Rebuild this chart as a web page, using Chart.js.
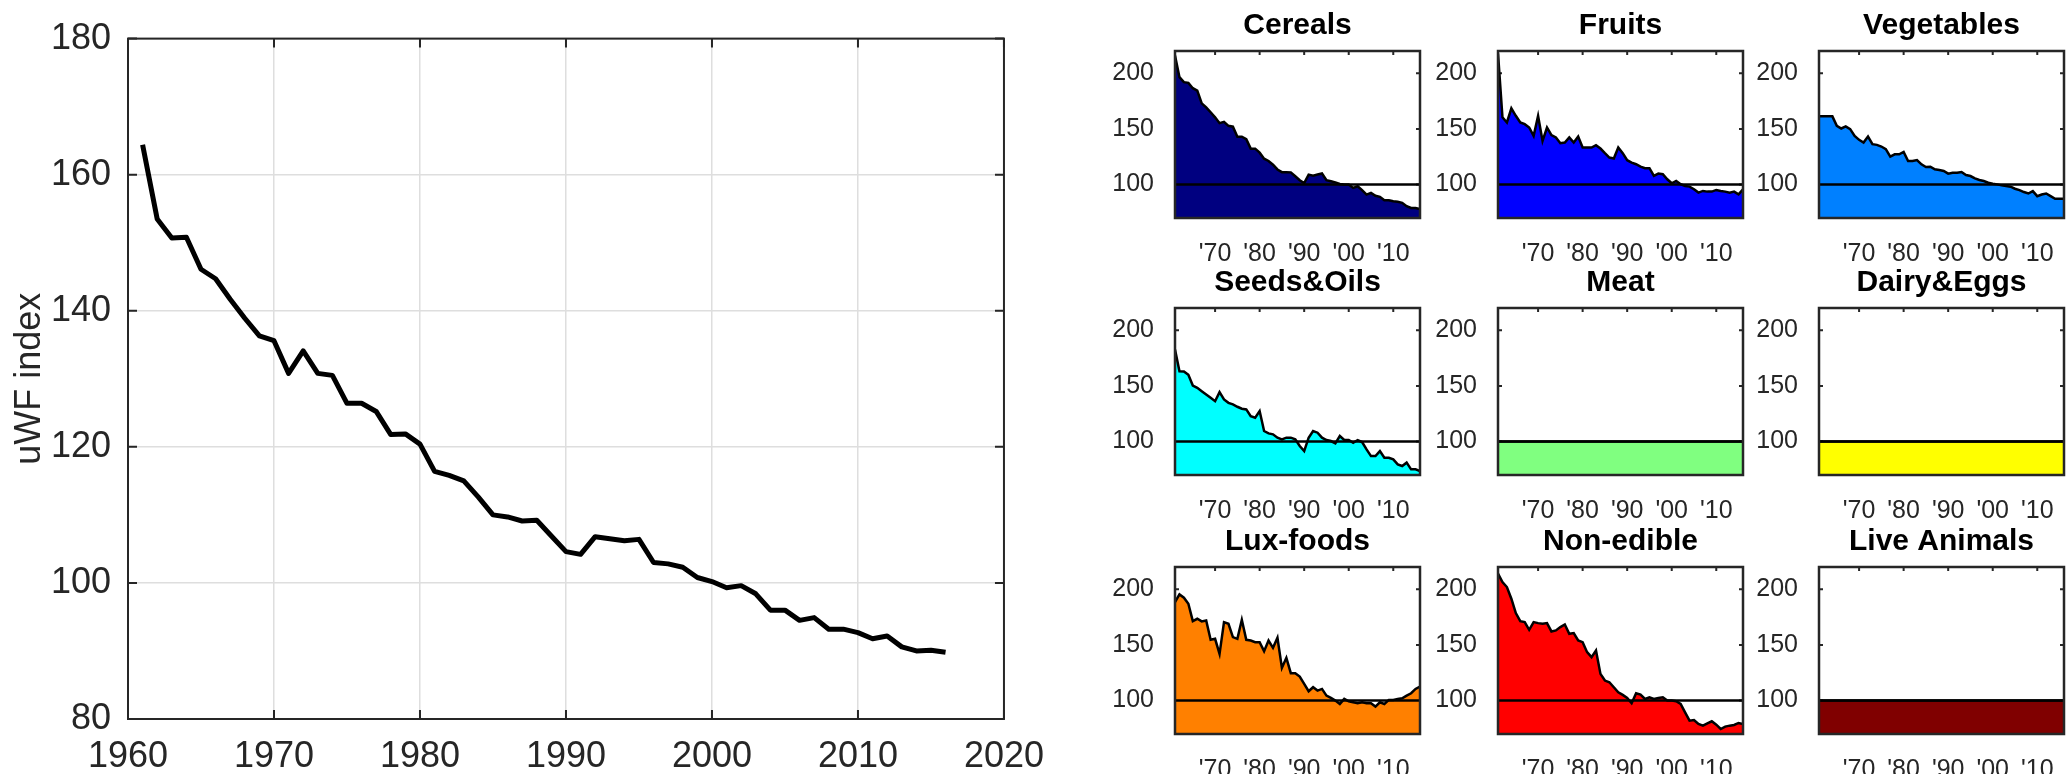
<!DOCTYPE html>
<html>
<head>
<meta charset="utf-8">
<script src="https://cdn.jsdelivr.net/npm/chart.js@4.4.1/dist/chart.umd.min.js"></script>
<style>
  html, body { margin: 0; padding: 0; background: #ffffff; overflow: hidden; width: 2067px; height: 774px; }
  canvas { position: absolute; }
</style>
</head>
<body>
<canvas id="main" width="1060" height="774" style="left:0px;top:0px"></canvas>
<div id="panels"></div>
<script>
// ---------------- DATA ----------------
const years = [1961,1962,1963,1964,1965,1966,1967,1968,1969,1970,
               1971,1972,1973,1974,1975,1976,1977,1978,1979,1980,
               1981,1982,1983,1984,1985,1986,1987,1988,1989,1990,
               1991,1992,1993,1994,1995,1996,1997,1998,1999,2000,
               2001,2002,2003,2004,2005,2006,2007,2008,2009,2010,
               2011,2012,2013,2014,2015,2016];

const uwfIndex = [164.4,153.5,150.7,150.8,146.1,144.7,141.7,138.9,136.3,135.6,
                  130.8,134.1,130.8,130.5,126.4,126.4,125.2,121.8,121.9,120.4,
                  116.4,115.8,115.0,112.6,110.0,109.7,109.1,109.2,106.9,104.6,
                  104.2,106.8,106.5,106.2,106.4,103.0,102.8,102.3,100.8,100.2,
                  99.3,99.6,98.4,96.0,96.0,94.5,94.9,93.2,93.2,92.7,
                  91.8,92.2,90.6,90.0,90.1,89.8];

const cereals = [216,196.5,192,191.4,186.6,184.5,173,169.4,165,160.4,
                 155.2,156.4,152.8,152,143,143,140.8,132.3,132.3,128.7,
                 123.3,121.2,117.9,113.6,111.2,111.2,111,107.5,103.9,101.4,
                 109,108,109,110,103.9,103,102,100.6,100,100,
                 97,98.5,95,91,92.6,90,89,86,86,85,
                 84.5,83.6,80.6,79,79,78];

const fruits = [218,160.4,155.8,168.5,161.8,155.8,154.3,151.3,143.8,161.8,
                139.3,151.3,144.4,142.3,137.2,137.8,142.3,137.8,143.2,133.3,
                133.3,133.3,135.4,132.4,128.2,124.3,123.4,133.3,128.2,121.9,
                119.8,118.3,116.2,114.7,114.7,107.8,109.9,109.3,104.8,101.2,
                103.3,100.3,98.8,98.2,95.8,92.8,94.3,93.7,93.7,95.2,
                94.3,93.7,92.8,93.7,91.3,95.8];

const vegetables = [161.3,161.3,161.3,161.3,152.8,150.4,152.2,149.8,143.8,140.2,
                    137.8,143.2,136.3,135.7,134.2,131.8,125.2,127.2,127.2,129.3,
                    121.2,121.2,122.1,118.2,115.8,116.1,113.7,113.1,112.2,109.8,
                    110.7,110.7,111.3,108.6,107.7,105.6,104.1,103.2,101.7,100.8,
                    100.2,99.3,98.7,98.1,96.3,95.1,93.3,92.0,94.2,89.6,
                    91.1,92.0,89.6,87.2,87.2,87.2];

const seedsOils = [182.7,163.2,163,160,150.4,148.3,145.3,142.3,139.3,136.3,
                   144.4,137.8,134.8,133.4,131.3,129.5,128.9,122.9,121.4,127.4,
                   109.5,107.4,106.5,103.5,102,103.5,103.5,102,96,91.5,
                   103.5,109.5,108,103.5,101.4,100.5,98.4,105,101.4,101.4,
                   99,101.4,99.6,93,87,87,91.5,85.5,85.5,84,
                   79.6,78.1,81.1,75.1,75.1,73.6];

const meat = [100,100,100,100,100,100,100,100,100,100,
              100,100,100,100,100,100,100,100,100,100,
              100,100,100,100,100,100,100,100,100,100,
              100,100,100,100,100,100,100,100,100,100,
              100,100,100,100,100,100,100,100,100,100,
              100,100,100,100,100,100];

const dairyEggs = [100,100,100,100,100,100,100,100,100,100,
                   100,100,100,100,100,100,100,100,100,100,
                   100,100,100,100,100,100,100,100,100,100,
                   100,100,100,100,100,100,100,100,100,100,
                   100,100,100,100,100,100,100,100,100,100,
                   100,100,100,100,100,100];

const luxFoods = [188.5,195.4,192.4,187,171.4,173.5,171.1,172,154.6,155.5,
                  142,170.5,169,157,155.5,172.6,154.6,154,152.5,152.5,
                  144.4,154,147.4,156.4,129.4,138.4,124.6,124.6,121.6,115,
                  108.4,112,109,110.5,104.5,102.4,100,97,101.5,99.4,
                  98.5,97.6,98.5,97.6,97.6,94.6,98.5,97,100.6,100.6,
                  101.5,102.1,104.5,106.6,110.5,112.6];

const nonEdible = [214,206.5,202,191.5,178.6,171.4,170.5,163.6,170.5,169.6,
                   169,169.6,162.1,163,166,168.4,160,160.6,154,152.5,
                   143.5,139,145,124,118,116.5,112,107.5,105.1,102.4,
                   97.6,106.6,105.4,101.5,103,101.5,102.4,103,100,100,
                   99.4,97,89.5,82,82.6,79,77.5,79.6,81.4,78.4,
                   74.5,76.6,77.5,78.1,79.9,79];

const liveAnimals = [100,100,100,100,100,100,100,100,100,100,
                     100,100,100,100,100,100,100,100,100,100,
                     100,100,100,100,100,100,100,100,100,100,
                     100,100,100,100,100,100,100,100,100,100,
                     100,100,100,100,100,100,100,100,100,100,
                     100,100,100,100,100,100];

const panelTitles = ['Cereals','Fruits','Vegetables','Seeds&Oils','Meat','Dairy&Eggs','Lux-foods','Non-edible','Live Animals'];
const panelSeries = [cereals, fruits, vegetables, seedsOils, meat, dairyEggs, luxFoods, nonEdible, liveAnimals];
const panelColors = ['#000080','#0000ff','#0080ff','#00ffff','#80ff80','#ffff00','#ff8000','#ff0000','#800000'];

const mainXTicks = [1960,1970,1980,1990,2000,2010,2020];
const mainYTicks = [80,100,120,140,160,180];
const panelXTicks = [1970,1980,1990,2000,2010];
const panelYTicks = [100,150,200];
const referenceLevel = 100;
const mainYLabel = 'uWF index';

// ---------------- STYLE / LAYOUT ----------------
const FONT = "'Liberation Sans', Arial, Helvetica, sans-serif";
const AXIS_COLOR = '#262626';

const matlabAxes = {
  id: 'matlabAxes',
  beforeDatasetsDraw(chart, args, o) { if (!o.ticksOnTop) drawTicks(chart, o); },
  afterDatasetsDraw(chart, args, o) {
    if (o.ticksOnTop) drawTicks(chart, o);
    const {ctx, chartArea: a} = chart;
    ctx.save();
    ctx.strokeStyle = o.color;
    ctx.lineWidth = o.boxWidth;
    ctx.strokeRect(a.left, a.top, a.right - a.left, a.bottom - a.top);
    ctx.restore();
  }
};
function drawTicks(chart, o) {
  const {ctx, chartArea: a} = chart;
  const xs = chart.scales.x, ys = chart.scales.y;
  ctx.save();
  ctx.strokeStyle = o.color;
  ctx.lineWidth = o.tickWidth;
  ctx.beginPath();
  xs.ticks.forEach(t => {
    const px = xs.getPixelForValue(t.value);
    ctx.moveTo(px, a.bottom); ctx.lineTo(px, a.bottom - o.len);
    ctx.moveTo(px, a.top); ctx.lineTo(px, a.top + o.len);
  });
  ys.ticks.forEach(t => {
    const py = ys.getPixelForValue(t.value);
    ctx.moveTo(a.left, py); ctx.lineTo(a.left + o.len, py);
    ctx.moveTo(a.right, py); ctx.lineTo(a.right - o.len, py);
  });
  ctx.stroke();
  ctx.restore();
}

// ---------------- MAIN CHART ----------------
new Chart(document.getElementById('main'), {
  type: 'line',
  data: {
    datasets: [{
      data: years.map((y, i) => ({x: y, y: uwfIndex[i]})),
      borderColor: '#000000',
      borderWidth: 5,
      pointRadius: 0,
      fill: false,
      tension: 0,
      borderJoinStyle: 'round'
    }]
  },
  plugins: [matlabAxes],
  options: {
    responsive: false,
    devicePixelRatio: 1,
    animation: false,
    layout: { padding: { left: 0, right: 41, top: 15, bottom: 0 } },
    plugins: {
      legend: { display: false },
      tooltip: { enabled: false },
      matlabAxes: { color: AXIS_COLOR, boxWidth: 2, tickWidth: 2, len: 9, ticksOnTop: true }
    },
    scales: {
      x: {
        type: 'linear', min: 1960, max: 2020,
        afterBuildTicks: s => { s.ticks = mainXTicks.map(v => ({value: v})); },
        afterFit: s => { s.height = 55; },
        grid: { color: '#dedede', lineWidth: 1.5, drawTicks: false },
        border: { display: false },
        ticks: { color: AXIS_COLOR, font: { family: FONT, size: 36 }, padding: 16, maxRotation: 0, autoSkip: false,
                 callback: v => String(v) }
      },
      y: {
        type: 'linear', min: 80, max: 180,
        afterBuildTicks: s => { s.ticks = mainYTicks.map(v => ({value: v})); },
        afterFit: s => { s.width = 128; },
        grid: { color: '#dedede', lineWidth: 1.5, drawTicks: false },
        border: { display: false },
        ticks: { color: AXIS_COLOR, font: { family: FONT, size: 36 }, padding: 17, callback: v => String(v) },
        title: { display: true, text: mainYLabel, color: AXIS_COLOR, font: { family: FONT, size: 36 }, padding: { top: 8, bottom: 0 } }
      }
    }
  }
});

// ---------------- SMALL PANELS ----------------
const colLeft = [1175, 1498, 1819];
const rowTop = [51, 308, 567];
const PW = 245, PH = 167, SIDE = 75, TOPM = 51, BOTM = 50;

const holder = document.getElementById('panels');
panelTitles.forEach((title, k) => {
  const r = Math.floor(k / 3), c = k % 3;
  const cv = document.createElement('canvas');
  cv.width = PW + 2 * SIDE;
  cv.height = TOPM + PH + BOTM;
  cv.style.left = (colLeft[c] - SIDE) + 'px';
  cv.style.top = (rowTop[r] - TOPM) + 'px';
  holder.appendChild(cv);
  const series = panelSeries[k];
  new Chart(cv, {
    type: 'line',
    data: {
      datasets: [
        {
          data: [{x: years[0], y: referenceLevel}, {x: years[years.length - 1], y: referenceLevel}],
          borderColor: '#000000', borderWidth: 2.5, pointRadius: 0, fill: false,
          xAxisID: 'x', yAxisID: 'y'
        },
        {
          data: years.map((y, i) => ({x: y, y: series[i]})),
          borderColor: '#000000', borderWidth: 2.5, pointRadius: 0, tension: 0,
          fill: 'start', backgroundColor: panelColors[k],
          xAxisID: 'x', yAxisID: 'y'
        }
      ]
    },
    plugins: [matlabAxes],
    options: {
      responsive: false,
      devicePixelRatio: 1,
      animation: false,
      layout: { padding: 0 },
      plugins: {
        legend: { display: false },
        tooltip: { enabled: false },
        title: { display: true, text: title, color: '#000000',
                 font: { family: FONT, size: 30, weight: 'bold' }, padding: { top: 8, bottom: 7 } },
        matlabAxes: { color: AXIS_COLOR, boxWidth: 2.5, tickWidth: 2, len: 4, ticksOnTop: false }
      },
      scales: {
        x: {
          type: 'linear', min: years[0], max: years[years.length - 1],
          afterBuildTicks: s => { s.ticks = panelXTicks.map(v => ({value: v})); },
          afterFit: s => { s.height = BOTM; },
          grid: { display: false },
          border: { display: false },
          ticks: { color: AXIS_COLOR, font: { family: FONT, size: 25 }, padding: 13, maxRotation: 0, autoSkip: false,
                   callback: v => "'" + String(v).slice(2) }
        },
        y: {
          type: 'linear', position: 'left', min: 70, max: 220,
          afterBuildTicks: s => { s.ticks = panelYTicks.map(v => ({value: v})); },
          afterFit: s => { s.width = SIDE; },
          grid: { display: false },
          border: { display: false },
          ticks: { color: AXIS_COLOR, font: { family: FONT, size: 25 }, padding: 13, callback: v => String(v) }
        },
        yR: {
          type: 'linear', position: 'right', display: true,
          afterFit: s => { s.width = SIDE; },
          grid: { display: false },
          border: { display: false },
          ticks: { display: false }
        }
      }
    }
  });
});
</script>
</body>
</html>
